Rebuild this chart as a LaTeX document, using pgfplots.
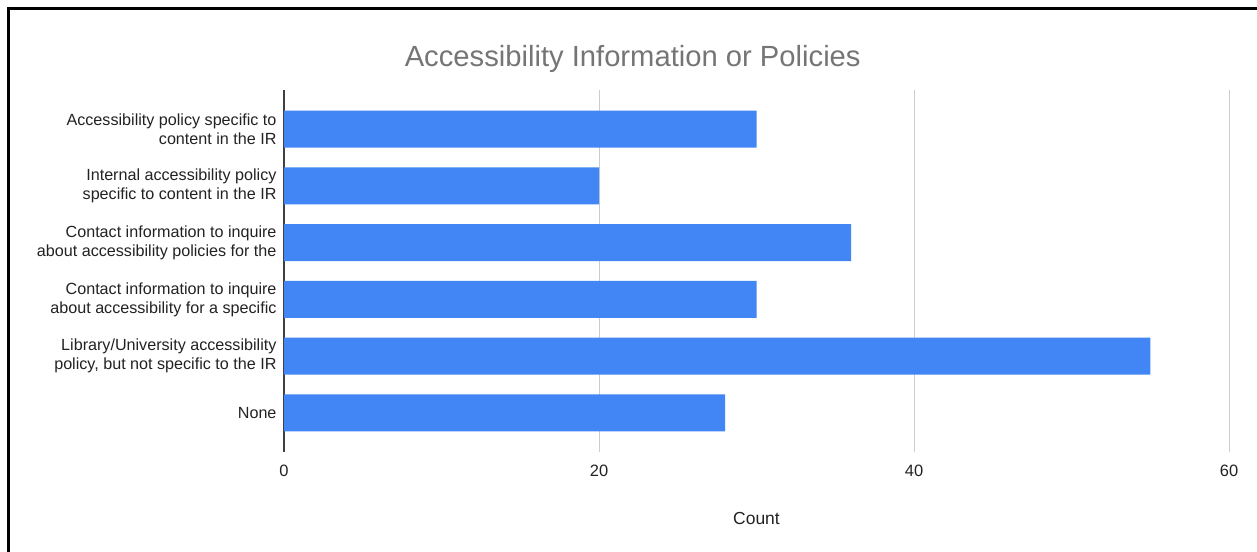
\documentclass[border=0pt]{standalone}
\usepackage{fontspec}
\setmainfont{Liberation Sans}
\usepackage{pgfplots}
\pgfplotsset{compat=1.18}
\definecolor{barblue}{HTML}{4285F4}
\definecolor{titlegray}{HTML}{757575}
\definecolor{txt}{HTML}{222222}
\definecolor{gridgray}{HTML}{CCCCCC}
\begin{document}
\begin{tikzpicture}
\path[use as bounding box] (0bp,0bp) rectangle (1257bp,552bp);
\draw[line width=2.2bp] (8.5bp,-5bp) -- (8.5bp,543.5bp) -- (1265bp,543.5bp);
\begin{axis}[
  at={(284bp,100bp)}, anchor=south west,
  scale only axis, width=945bp, height=362bp,
  xbar, bar width=37bp,
  xmin=0, xmax=60, ymin=-0.69, ymax=5.69, y dir=reverse,
  xtick={0,20,40,60}, ytick={0,1,2,3,4,5},
  yticklabels={{Accessibility policy specific to\\content in the IR},
               {Internal accessibility policy\\specific to content in the IR},
               {Contact information to inquire\\about accessibility policies for the},
               {Contact information to inquire\\about accessibility for a specific},
               {Library/University accessibility\\policy, but not specific to the IR},
               {None}},
  yticklabel style={align=right, font=\fontsize{16.2}{19}\selectfont, text=txt, xshift=-4bp},
  xticklabel style={font=\fontsize{16.5}{19}\selectfont, text=txt, yshift=-9bp},
  /pgf/number format/assume math mode=true,
  major tick length=0pt,
  xmajorgrids, grid style={gridgray, line width=1bp},
  axis x line*=bottom, x axis line style={draw=none},
  axis y line*=left, y axis line style={draw=black!75, line width=1.2bp},
  xlabel={Count},
  xlabel style={font=\fontsize{17.5}{20}\selectfont, text=txt, yshift=-29bp},
  title={Accessibility Information or Policies},
  title style={at={(0.369,1)}, anchor=base, yshift=18bp, font=\fontsize{29.3}{33}\selectfont, text=titlegray},
]
\addplot[fill=barblue, draw=none] coordinates {(30,0) (20,1) (36,2) (30,3) (55,4) (28,5)};
\end{axis}
\end{tikzpicture}
\end{document}
